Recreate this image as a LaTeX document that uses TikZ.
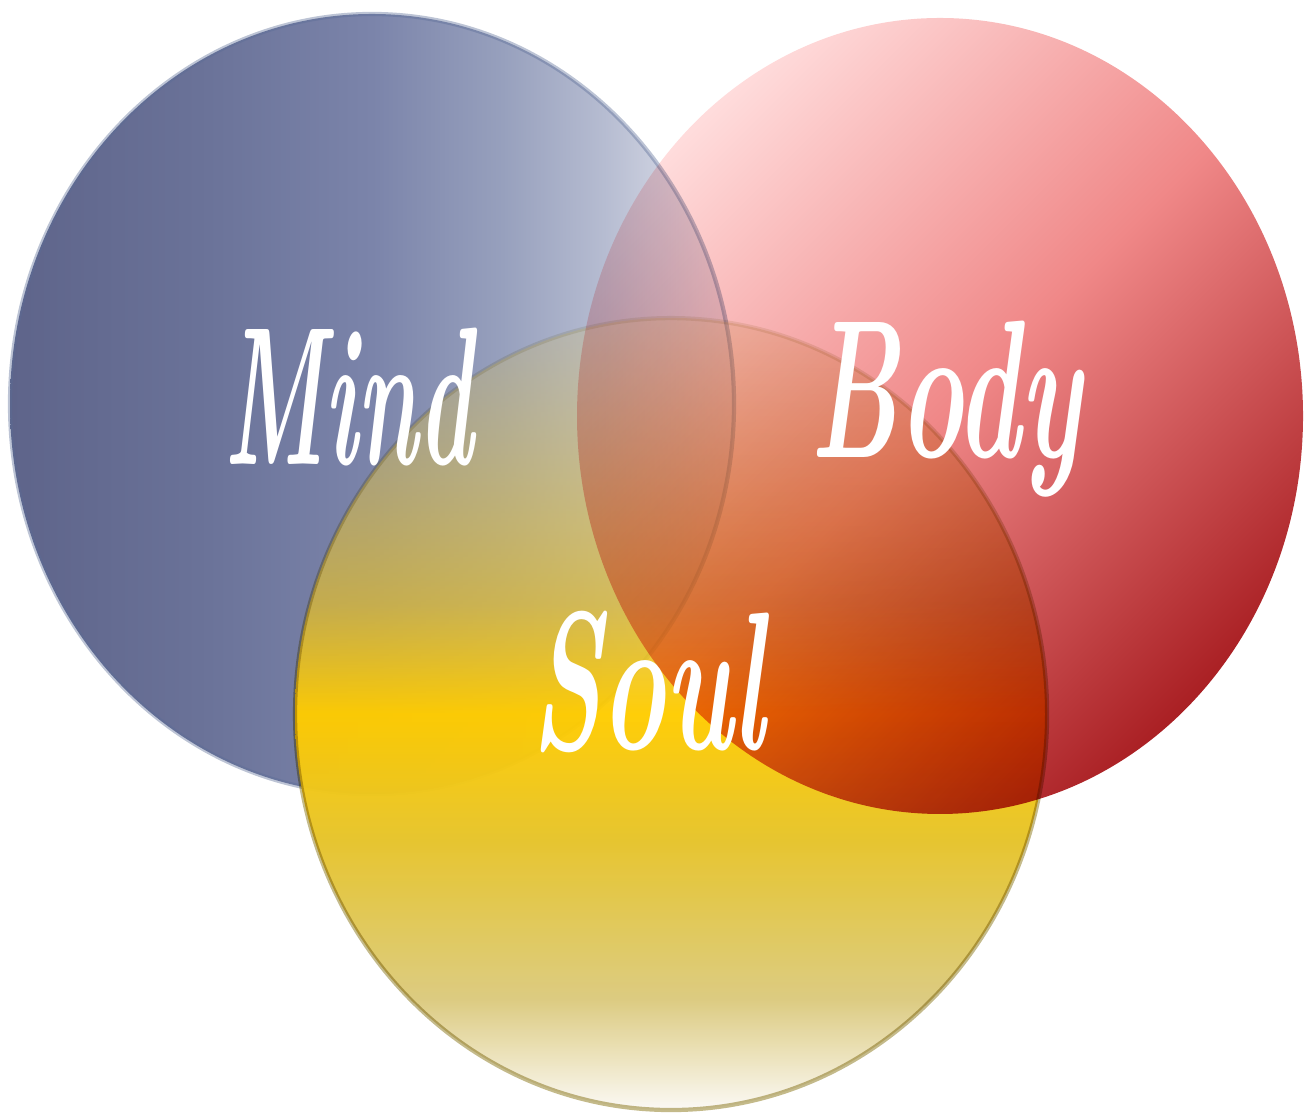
\documentclass[tikz,border=0pt]{standalone}
\usepackage{xcolor}
\usepackage{tikz}
\usetikzlibrary{positioning,fadings}

% colours
\definecolor{mindA}{HTML}{5E648A}
\definecolor{mindB}{HTML}{6A7298}
\definecolor{mindC}{HTML}{7B84AA}
\definecolor{mindD}{HTML}{97A0BD}
\definecolor{mindE}{HTML}{B6BCD1}
\definecolor{mindF}{HTML}{E8EAF1}
\definecolor{mindEdge}{HTML}{5A6C96}
\definecolor{soulA}{HTML}{FBF9F5}
\definecolor{soulB}{HTML}{DCCB80}
\definecolor{soulC}{HTML}{E6C42C}
\definecolor{soulD}{HTML}{FFCC00}
\definecolor{soulE}{HTML}{DCBA34}
\definecolor{soulF}{HTML}{D4C070}
\definecolor{soulEdge}{HTML}{9C8C3C}
\definecolor{bodyA}{HTML}{FFDCDC}
\definecolor{bodyB}{HTML}{F08888}
\definecolor{bodyC}{HTML}{AA2024}

\pgfdeclarehorizontalshading{mindshade}{100bp}{color(0bp)=(mindA); color(25bp)=(mindA);
  color(38bp)=(mindB); color(50bp)=(mindC); color(59bp)=(mindD); color(66bp)=(mindE);
  color(75bp)=(mindF); color(100bp)=(mindF)}
\pgfdeclareverticalshading{soulshade}{100bp}{color(0bp)=(soulA); color(25bp)=(soulA);
  color(32bp)=(soulB); color(42bp)=(soulC); color(50bp)=(soulD); color(57bp)=(soulE);
  color(75bp)=(soulF); color(100bp)=(soulF)}
\tikzfading[name=soulfade, top color=transparent!75, bottom color=transparent!0, middle color=transparent!3]

\begin{document}
\begin{tikzpicture}[
    blob/.style={line width=1.2pt, draw opacity=0.6},
    lbl/.style={text=white, inner sep=0pt, anchor=base, xscale=0.55, transform shape,
      font=\fontsize{56}{56}\selectfont\bfseries\itshape}
]
\useasboundingbox (0,0) rectangle (13.06,11.15);

% Mind circle
\path[blob, shading=mindshade, draw=mindEdge, draw opacity=0.4] (3.72,7.11) ellipse [x radius=3.62, y radius=3.90];

% Soul circle
\path[shading=soulshade, path fading=soulfade] (6.71,4.01) ellipse [x radius=3.76, y radius=3.96];

% Body circle, multiplied over the others
\begin{scope}[blend mode=multiply]
\path[top color=bodyA, bottom color=bodyC, middle color=bodyB, shading angle=45]
  (9.40,6.99) ellipse [x radius=3.63, y radius=3.98];
% Soul rim
\draw[blob, draw=soulEdge, draw opacity=0.6, path fading=soulfade] (6.71,4.01) ellipse [x radius=3.76, y radius=3.96];
\end{scope}

% Labels
\node[lbl, xscale=0.86] (mind) at (3.49,6.50) {Mind};
\node[lbl] (body) at (9.46,6.57) {Body};
\node[lbl] (soul) at (6.48,3.65) {Soul};
\end{tikzpicture}
\end{document}
